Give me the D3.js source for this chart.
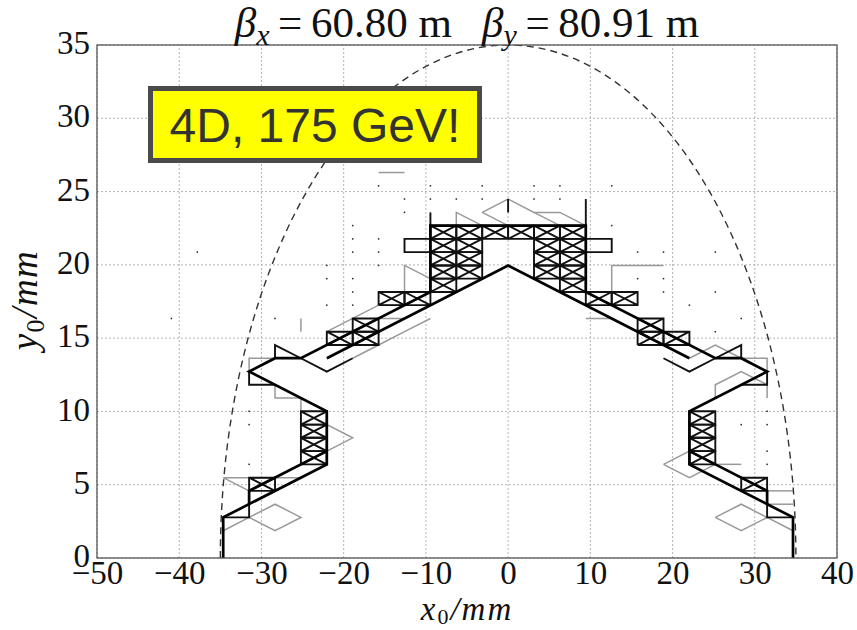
<!DOCTYPE html>
<html>
<head>
<meta charset="utf-8">
<script src="https://cdn.jsdelivr.net/npm/d3@7"></script>
<style>
  body { margin: 0; background: #fff; }
  svg { display: block; }
</style>
</head>
<body>
<svg id="chart" width="857" height="630"></svg>
<script>
// Scan grid of initial amplitudes (mm). Index k runs -13..13 for x0, j runs 0..29 for y0.
const xScan = [-40.95, -37.8, -34.65, -31.5, -28.35, -25.2, -22.05, -18.9, -15.75, -12.6, -9.45, -6.3, -3.15,
               0, 3.15, 6.3, 9.45, 12.6, 15.75, 18.9, 22.05, 25.2, 28.35, 31.5, 34.65, 37.8, 40.95];
const yScan = [0, 0.96, 1.86, 2.77, 3.67, 4.58, 5.48, 6.39, 7.29, 8.2, 9.1, 10.01, 10.91, 11.82, 12.72,
               13.63, 14.53, 15.44, 16.34, 17.25, 18.15, 19.06, 19.96, 20.87, 21.77, 22.68, 23.58, 24.49, 25.39, 26.3];

// Stability boundary (outermost surviving contour), given as [k, j] scan-grid nodes
const boundaryPaths = [
  [[-11,0],[-11,3],[-7,7],[-7,11],[-10,14],[-9,15],[-8,15],[-3,20],[-3,25],[3,25],[3,20],[8,15],[9,15],[10,14],[7,11],[7,7],[11,3],[11,0]],
  [[-7,15],[0,22],[7,15]],
  [[-10,4],[-10,5],[-7,8]],
  [[10,4],[10,5],[7,8]]
];

// Secondary contours (dark)
const darkPaths = [
  [[-9,15],[-9,16],[-8,15]],
  [[-8,15],[-7,14],[-6,15]],
  [[-10,14],[-10,13],[-9,13]],
  [[9,15],[9,16],[8,15]],
  [[8,15],[7,14],[6,15]],
  [[10,14],[10,13],[9,13]],
  [[-3,23],[-4,23],[-4,24],[-3,24]],
  [[3,23],[4,23],[4,24],[3,24]],
  [[-3,25],[-3,26]],
  [[0,26],[0,27]],
  [[3,25],[3,27]],
  [[-11,3],[-10,3],[-10,4]],
  [[11,3],[10,3],[10,4]]
];

// Scan cells crossed by several contours, [k, j] = lower-left node
const darkCells = [
  [-10,5],[-8,7],[-8,8],[-8,9],[-8,10],[-7,16],[-6,16],[-6,17],[-5,19],[-4,19],
  [-3,24],[-2,24],[-1,24],[0,24],[1,24],[2,24],
  [-3,20],[-3,21],[-3,22],[-3,23],[-2,21],[-2,22],[-2,23],
  [1,21],[1,22],[1,23],[2,20],[2,21],[2,22],[2,23],
  [9,5],[7,7],[7,8],[7,9],[7,10],[5,17],[5,16],[6,16],[4,19],[3,19]
];

// Faint contours (light grey)
const greyPaths = [
  [[-11,2],[-10,3]],
  [[-10,5],[-11,6],[-8,6]],
  [[-10,14],[-10,15],[-9,15]],
  [[-9,13],[-9,12],[-8,12],[-8,11]],
  [[-7,17],[-5,19],[-4,19]],
  [[-6,15],[-5,16],[-4,17],[-3,18]],
  [[-5,18],[-4,18]],
  [[-4,20],[-4,21]],
  [[-4,21],[-4,22],[-3,21]],
  [[-2,25],[-2,26],[-1,25]],
  [[-1,26],[0,27],[1,26],[2,26],[3,25]],
  [[-1,26],[0,25]],
  [[1,26],[2,25]],
  [[4,20],[4,22],[6,22]],
  [[3,18],[4,18],[5,17]],
  [[7,15],[8,16],[9,15],[10,15],[10,14]],
  [[8,12],[8,13],[9,14],[10,13],[10,12]],
  [[11,2],[10,3]],
  [[10,5],[11,5]],
  [[10,4],[11,4]],
  [[8,7],[9,7]],
  [[-8,17],[-8,18]],
  [[-5,29],[-4,29]]
];
const greyDiamonds = [[-9,3],[-7,9],[9,3],[7,7]];

// Isolated surviving particles
const dots = [
  [-5,28],[-4,27],[-4,26],[-6,25],[-6,24],[-5,24],[-6,23],[-5,23],[-7,22],[-5,22],[-7,21],[-6,21],
  [-6,20],[-7,19],[-6,19],[-9,18],[-3,27],[-3,28],[-1,28],[1,28],[2,28],[4,28],[4,25],[5,23],[6,23],
  [5,21],[6,21],[6,20],[7,19],[8,20],[8,23],[9,18],[8,17],[9,10],[10,10],[10,11],[10,8],[10,7],
  [-10,10],[-10,7],[-10,11],[-12,23],[-13,18],[-1,27],[1,27],[2,27],[-2,27]
];

// Axes
const xTicks = [-50, -40, -30, -20, -10, 0, 10, 20, 30, 40];
const yTicks = [0, 5, 10, 15, 20, 25, 30, 35];
const apertureRadius = [35, 35]; // semi-axes of the physical aperture (mm)

const svg = d3.select("#chart");
const x = d3.scaleLinear().domain([-50, 40]).range([97, 837]);
const y = d3.scaleLinear().domain([0, 35]).range([558, 45]);
const px = d => x(xScan[d[0] + 13]);
const py = d => y(yScan[d[1]]);
const line = d3.line().x(px).y(py);

svg.append("defs").append("clipPath").attr("id", "plotClip")
  .append("rect").attr("x", 97).attr("y", 45).attr("width", 740).attr("height", 513);

// grid
const grid = svg.append("g").attr("stroke", "#b4b4b4").attr("stroke-width", 1).attr("stroke-dasharray", "2,2");
grid.selectAll("line.gx").data(xTicks).join("line")
  .attr("x1", d => x(d)).attr("x2", d => x(d)).attr("y1", y(0)).attr("y2", y(35));
grid.selectAll("line.gy").data(yTicks).join("line")
  .attr("x1", x(-50)).attr("x2", x(40)).attr("y1", d => y(d)).attr("y2", d => y(d));

const plot = svg.append("g").attr("clip-path", "url(#plotClip)").attr("fill", "none")
  .attr("stroke-linejoin", "miter");

// grey contours
plot.append("g").attr("stroke", "#999").attr("stroke-width", 1.5)
  .selectAll("path").data(greyPaths).join("path").attr("d", line);
plot.append("g").attr("stroke", "#999").attr("stroke-width", 1.5)
  .selectAll("path").data(greyDiamonds).join("path")
  .attr("d", c => line([[c[0]-1,c[1]],[c[0],c[1]+1],[c[0]+1,c[1]],[c[0],c[1]-1],[c[0]-1,c[1]]]));

// dark cells: outline plus both diagonals
const cellG = plot.append("g").attr("stroke", "#111").attr("stroke-width", 1.9);
cellG.selectAll("path").data(darkCells).join("path")
  .attr("d", c => line([[c[0],c[1]],[c[0]+1,c[1]],[c[0]+1,c[1]+1],[c[0],c[1]+1],[c[0],c[1]]]) +
                  line([[c[0],c[1]],[c[0]+1,c[1]+1]]) + line([[c[0],c[1]+1],[c[0]+1,c[1]]]));

plot.append("g").attr("stroke", "#111").attr("stroke-width", 1.9)
  .selectAll("path").data(darkPaths).join("path").attr("d", line);

plot.append("g").attr("stroke", "#000").attr("stroke-width", 2.7)
  .selectAll("path").data(boundaryPaths).join("path").attr("d", line);

plot.append("g").attr("fill", "#222").attr("stroke", "none")
  .selectAll("rect").data(dots).join("rect")
  .attr("x", d => px(d) - 0.75).attr("y", d => py(d) - 0.75).attr("width", 1.5).attr("height", 1.5);

// physical aperture
const rx = x(apertureRadius[0]) - x(0), ry = y(0) - y(apertureRadius[1]);
plot.append("path")
  .attr("d", `M${x(-apertureRadius[0])},${y(0)} A${rx},${ry} 0 0 1 ${x(apertureRadius[0])},${y(0)}`)
  .attr("stroke", "#333").attr("stroke-width", 1.4).attr("stroke-dasharray", "7,5");

// frame
svg.append("rect").attr("x", 97).attr("y", 45).attr("width", 740).attr("height", 513)
  .attr("fill", "none").attr("stroke", "#555").attr("stroke-width", 1.3);

// tick labels
const serif = "'Liberation Serif', 'DejaVu Serif', serif";
const xAxis = svg.append("g").attr("transform", "translate(0,558)")
  .call(d3.axisBottom(x).tickValues(xTicks).tickSize(0).tickPadding(4));
const yAxis = svg.append("g").attr("transform", "translate(97,0)")
  .call(d3.axisLeft(y).tickValues(yTicks).tickSize(0).tickPadding(7));
[xAxis, yAxis].forEach(a => {
  a.select(".domain").remove();
  a.selectAll("text").attr("font-family", serif).attr("font-size", 33).attr("fill", "#111");
});
xAxis.selectAll("text").attr("dy", "0.68em");
yAxis.selectAll("text").attr("dy", "0.26em");

// title
const title = svg.append("text").attr("x", 467).attr("y", 37).attr("text-anchor", "middle")
  .attr("font-family", serif).attr("font-size", 43).attr("fill", "#111");
title.append("tspan").attr("font-style", "italic").text("β");
title.append("tspan").attr("font-style", "italic").attr("font-size", 30).attr("dy", 8).text("x");
title.append("tspan").attr("dy", -8).text("\u2009=\u200960.80 m\u2002\u2009");
title.append("tspan").attr("font-style", "italic").text("β");
title.append("tspan").attr("font-style", "italic").attr("font-size", 30).attr("dy", 8).text("y");
title.append("tspan").attr("dy", -8).text("\u2009=\u200980.91 m");

// axis labels
const xl = svg.append("text").attr("x", 467).attr("y", 620).attr("text-anchor", "middle")
  .attr("font-family", serif).attr("font-size", 33).attr("font-style", "italic")
  .attr("letter-spacing", 2).attr("fill", "#111");
xl.append("tspan").text("x");
xl.append("tspan").attr("font-size", 22).attr("dy", 4).attr("font-style", "normal").text("0");
xl.append("tspan").attr("dy", -4).text("/mm");

const yl = svg.append("text").attr("transform", "translate(37,300) rotate(-90)").attr("text-anchor", "middle")
  .attr("font-family", serif).attr("font-size", 37).attr("font-style", "italic")
  .attr("letter-spacing", 1.5).attr("fill", "#111");
yl.append("tspan").text("y");
yl.append("tspan").attr("font-size", 26).attr("dy", 7).attr("font-style", "normal").text("0");
yl.append("tspan").attr("dy", -7).text("/mm");

// annotation box
const box = svg.append("g");
box.append("rect").attr("x", 150.5).attr("y", 88.5).attr("width", 329).attr("height", 72)
  .attr("fill", "#ffff00").attr("stroke", "#4a4a4a").attr("stroke-width", 5);
box.append("text").attr("x", 315).attr("y", 125).attr("text-anchor", "middle")
  .attr("dominant-baseline", "central")
  .attr("font-family", "'Liberation Sans', Arial, sans-serif").attr("font-size", 48).attr("fill", "#333")
  .text("4D, 175 GeV!");
</script>
</body>
</html>
